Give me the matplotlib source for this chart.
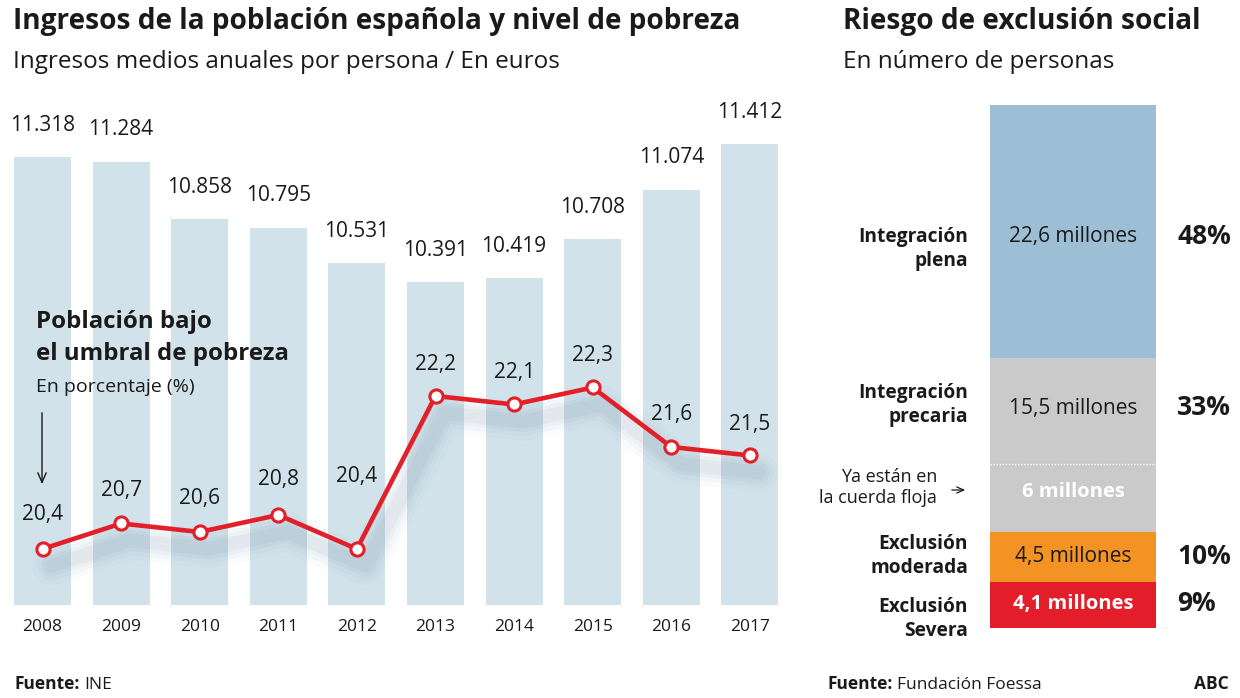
import matplotlib
matplotlib.use('Agg')
import matplotlib.pyplot as plt
from matplotlib.transforms import offset_copy
import numpy as np

plt.rcParams['font.family'] = ['Open Sans', 'DejaVu Sans']

# --- datos ---
years = ['2008', '2009', '2010', '2011', '2012', '2013', '2014', '2015', '2016', '2017']
income = [11318, 11284, 10858, 10795, 10531, 10391, 10419, 10708, 11074, 11412]
poverty = [20.4, 20.7, 20.6, 20.8, 20.4, 22.2, 22.1, 22.3, 21.6, 21.5]

groups = ['Exclusión\nSevera', 'Exclusión\nmoderada', 'Integración\nprecaria', 'Integración\nplena']
people = [4.1, 4.5, 15.5, 22.6]      # millones
shares = ['9%', '10%', '33%', '48%']
at_risk = 6                          # parte de la integración precaria

W, H = 1240, 698
TXT = '#1a1a1a'
fig = plt.figure(figsize=(W / 100, H / 100), dpi=100)


def box(x, y, w, h):
    return [x / W, 1 - (y + h) / H, w / W, h / H]


def ftext(x, y, s, **kw):
    kw.setdefault('color', TXT)
    return fig.text(x / W, 1 - y / H, s, **kw)


def eur(v):
    return f'{v:,}'.replace(',', '.')


def pct(v):
    return f'{v:.1f}'.replace('.', ',')


# --- ingresos (barras) ---
ax = fig.add_axes(box(3.2, 100, 786, 505))
x = np.arange(len(years))
ax.bar(x, income, width=0.725, color='#d2e2eb', zorder=0)
ax.set_xlim(-0.5, 9.5)
ax.set_ylim(7996, 11741)
ax.axis('off')
for xi, v in zip(x, income):
    ax.annotate(eur(v), (xi, v), xytext=(0, 32), textcoords='offset pixels',
                ha='center', va='center', fontsize=15, color=TXT)
for xi, y in zip(x, years):
    ax.annotate(y, (xi, 0), xycoords=('data', 'axes fraction'), xytext=(0, -22),
                textcoords='offset pixels', ha='center', va='center',
                fontsize=12.5, color=TXT)

# --- pobreza (linea) ---
axl = ax.twinx()
axl.set_ylim(19.741, 25.682)
axl.axis('off')
for lw, a in [(28, 0.025), (21, 0.035), (15, 0.045), (10, 0.055)]:
    tr = offset_copy(axl.transData, fig=fig, x=9, y=-17, units='dots')
    axl.plot(x, poverty, color='#4d6f8c', lw=lw, alpha=a, transform=tr,
             solid_capstyle='round', solid_joinstyle='round', zorder=1)
axl.plot(x, poverty, color='#e3202a', lw=3.3, marker='o', ms=9.5,
         mfc='white', mec='#e3202a', mew=2.2, zorder=3)
lift = [34, 33, 33, 35, 72, 31, 32, 32, 32, 31]
for xi, v, dy in zip(x, poverty, lift):
    axl.annotate(pct(v), (xi, v), xytext=(0, dy), textcoords='offset pixels',
                 ha='center', va='center', fontsize=15, color=TXT)

ftext(36, 322, 'Población bajo', fontsize=17.3, fontweight='bold', va='center')
ftext(36, 354, 'el umbral de pobreza', fontsize=17.3, fontweight='bold', va='center')
ftext(36, 387, 'En porcentaje (%)', fontsize=14, va='center')
ax.annotate('', xy=(42, H - 487), xycoords='figure pixels', xytext=(42, H - 410),
            arrowprops=dict(arrowstyle='->,head_length=0.7,head_width=0.3',
                            lw=1, color=TXT))

# --- riesgo de exclusion (barra apilada) ---
ax2 = fig.add_axes(box(990, 105, 166, 523))
ax2.set_xlim(0, 1)
ax2.set_ylim(0, sum(people))
ax2.axis('off')
colors = ['#e31e2a', '#f39324', '#cbcacb', '#9cbfd5']
bottoms = np.concatenate([[0], np.cumsum(people)[:-1]])
ax2.bar(0.5, people, width=1, bottom=bottoms, color=colors)
split = bottoms[2] + at_risk
ax2.hlines(split, 0, 1, colors='white', linestyles=(0, (1, 1.2)), lw=1)

value_txt = [('4,1 millones', 'white', 'bold'), ('4,5 millones', TXT, 'normal'),
             ('15,5 millones', TXT, 'normal'), ('22,6 millones', TXT, 'normal')]
centers = bottoms + np.array(people) / 2
centers[2] = split + (people[2] - at_risk) / 2
val_dy = [1, 0, 2.5, -4.5]
lab_dy = [-14, 1, 6.5, -17.5]
pct_dy = [2, 0, 3.5, -4.5]
for c, (s, col, fw), dv, dl, dp, g, sh in zip(centers, value_txt, val_dy, lab_dy,
                                             pct_dy, groups, shares):
    fs = 14.5 if fw == 'bold' else 15
    ax2.annotate(s, (0.5, c), xytext=(0, dv), textcoords='offset pixels',
                 ha='center', va='center', fontsize=fs, color=col, fontweight=fw)
    ax2.annotate(g, (0, c), xytext=(-22, dl), textcoords='offset pixels',
                 ha='right', va='center', fontsize=13.8, fontweight='bold',
                 color=TXT, linespacing=1.25)
    ax2.annotate(sh, (1, c), xytext=(21, dp), textcoords='offset pixels',
                 ha='left', va='center', fontsize=19, fontweight='bold', color=TXT)

floja = bottoms[2] + at_risk / 2
ax2.annotate('6 millones', (0.5, floja), xytext=(0, 6.5), textcoords='offset pixels',
             ha='center', va='center', fontsize=14.5, color='white', fontweight='bold')
ax2.annotate('Ya están en\nla cuerda floja', (0, floja), xytext=(-53, 10.5),
             textcoords='offset pixels', ha='right', va='center', fontsize=13,
             color=TXT, linespacing=1.25)
ax2.annotate('', xy=(968, H - 490), xycoords='figure pixels', xytext=(949, H - 490),
             arrowprops=dict(arrowstyle='->,head_length=0.5,head_width=0.22',
                             lw=0.9, color=TXT))

# --- titulos ---
ftext(13, 29, 'Ingresos de la población española y nivel de pobreza',
      fontsize=20.2, fontweight='bold', va='baseline')
ftext(13, 68, 'Ingresos medios anuales por persona / En euros', fontsize=17.5,
      va='baseline')
ftext(843, 29, 'Riesgo de exclusión social', fontsize=20.2, fontweight='bold',
      va='baseline')
ftext(843, 68, 'En número de personas', fontsize=17.5, va='baseline')

# --- fuentes ---
rend = fig.canvas.get_renderer()
for x0, src in [(14, 'INE'), (827, 'Fundación Foessa')]:
    t = ftext(x0, 689, 'Fuente:', fontsize=12.5, fontweight='bold', va='baseline')
    bb = t.get_window_extent(rend)
    ftext(bb.x1 + 5, 689, src, fontsize=12.5, va='baseline')
ftext(1229, 689, 'ABC', fontsize=12.5, fontweight='bold', ha='right', va='baseline')

fig.savefig('out.png', dpi=100)
